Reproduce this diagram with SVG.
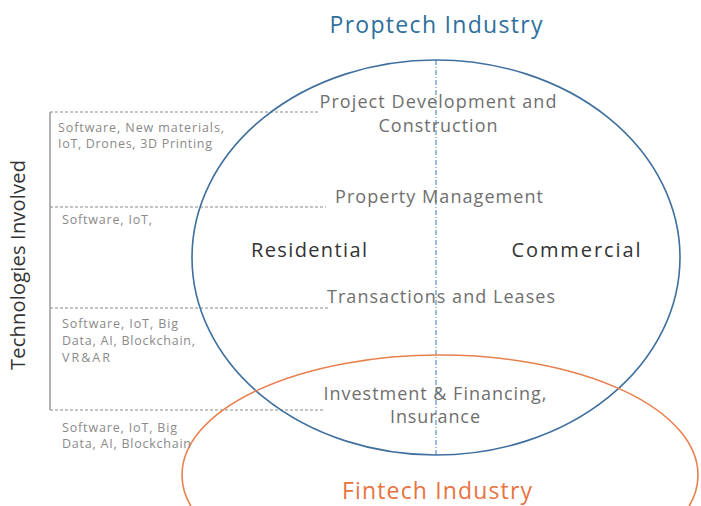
<svg xmlns="http://www.w3.org/2000/svg" width="701" height="506" viewBox="0 0 701 506">
<style>
text{font-family:"Open Sans","Liberation Sans",sans-serif}
.t{fill:#6f6f6f;font-size:18px;text-anchor:middle}
.s{fill:#8a8a8a;font-size:12.5px}
.k{fill:#333;font-size:20px;text-anchor:middle}
.d{stroke:#8a8a8a;stroke-width:1.2;stroke-dasharray:3 2;fill:none}
</style>
<rect width="701" height="506" fill="#fff"/>
<g id="connectors">
<line x1="50" y1="112" x2="50" y2="410" stroke="#8a8a8a" stroke-width="1.3"/>
<line class="d" x1="50" y1="112" x2="318" y2="112"/>
<line class="d" x1="50" y1="207" x2="326" y2="207"/>
<line class="d" x1="50" y1="308" x2="330" y2="308"/>
<line class="d" x1="50" y1="410" x2="325" y2="410"/>
<line x1="436" y1="60" x2="436" y2="455" stroke="#5b8fc7" stroke-width="1.2" stroke-dasharray="5 2 1 2"/>
</g>
<g id="proptech">
<ellipse cx="436" cy="257.5" rx="244" ry="197.5" fill="none" stroke="#3f6f9f" stroke-width="1.6"/>
<text x="436" y="33" font-size="23" fill="#2e6f9e" text-anchor="middle" textLength="213">Proptech Industry</text>
</g>
<g id="fintech">
<ellipse cx="440" cy="475" rx="258" ry="120" fill="none" stroke="#e8804e" stroke-width="1.6"/>
<text x="437" y="499" font-size="23" fill="#e8733f" text-anchor="middle" textLength="190">Fintech Industry</text>
</g>
<g id="stages">
<text class="t" x="438" y="108" textLength="237">Project Development and</text>
<text class="t" x="438" y="132" textLength="119">Construction</text>
<text class="t" x="439" y="203" textLength="208">Property Management</text>
<text class="t" x="441" y="303" textLength="228">Transactions and Leases</text>
<text class="t" x="435" y="400" textLength="223">Investment &amp; Financing,</text>
<text class="t" x="435" y="423" textLength="90">Insurance</text>
</g>
<g id="segments">
<text class="k" x="309" y="257" textLength="116">Residential</text>
<text class="k" x="576" y="257" textLength="129">Commercial</text>
</g>
<g id="technologies">
<text x="25" y="265" font-size="20" fill="#333" text-anchor="middle" textLength="210" transform="rotate(-90 25 265)">Technologies Involved</text>
<text class="s" x="58" y="132" textLength="166">Software, New materials,</text>
<text class="s" x="58" y="148" textLength="154">IoT, Drones, 3D Printing</text>
<text class="s" x="62" y="224" textLength="90">Software, IoT,</text>
<text class="s" x="62" y="328" textLength="116">Software, IoT, Big</text>
<text class="s" x="62" y="345" textLength="133">Data, AI, Blockchain,</text>
<text class="s" x="62" y="362" textLength="48">VR&amp;AR</text>
<text class="s" x="62" y="432" textLength="115">Software, IoT, Big</text>
<text class="s" x="62" y="448" textLength="129">Data, AI, Blockchain</text>
</g>
</svg>
